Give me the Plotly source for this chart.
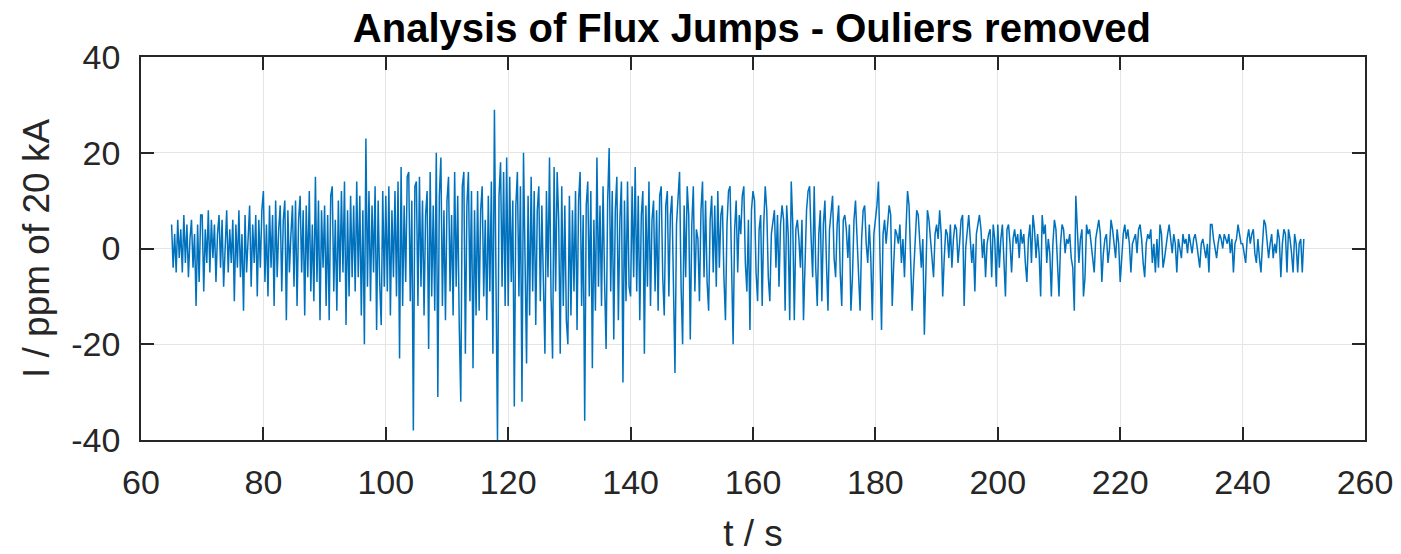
import plotly.graph_objects as go

# Sampling of the trace (seconds)
t_start = 65.0
t_step = 0.25

# Current deviation I / ppm of 20 kA (20 samples = 5 s per row)
current_ppm = [
    5, -4, 3, -5, 6, -2, 4, -5, 7, -3, 5, -6, 2, 6, -4, 3, -12, 5, -7, 7,
    7, -9, 4, -3, 8, -5, 6, -2, 5, -7, 3, 7, -4, 6, -8, 2, 8, -5, 4, -3,
    6, -11, 5, -4, 8, -6, 3, -13, 7, -5, 4, 9, -8, 5, -3, 7, -10, 6, -4, 8,
    12, -7, 5, -10, 9, -4, 7, -12, 10, -6, 4, 9, -9, 6, 10, -15, 8, -5, 3, 9,
    -8, 10, -12, 6, 11, -5, 8, -14, 9, -6, 12, -9, 5, -11, 15, -7, 10, -15, 8, -4,
    9, -12, 7, -15, 11, 13, -9, 6, -13, 10, -7, 12, -5, 14, -16, 8, -10, 11, -6, 9,
    -9, 14, -6, 11, -14, 8, -20, 23, -8, 12, -11, 9, -5, 13, -17, 10, -7, -16, 12, -8,
    11, -9, 13, -14, 8, -6, 12, -10, 14, -23, 17, -12, 9, -7, 15, 16, -11, 10, -38, 13,
    14, -12, 15, -8, 10, -14, 7, 12, -21, 16, -10, 9, -13, 20, -31, 11, 19, -12, 8, -15,
    10, 15, -9, 7, -14, 16, -8, 11, -16, -32, 13, 16, -22, 9, 16, -11, 12, -25, 8, -14,
    12, -13, 8, 13, -10, 6, -15, 11, -9, 14, -22, 29, -6, -40, 11, 18, -8, 16, -12, 19,
    -12, 15, -7, 10, -33, 9, 16, -10, 13, -32, 20, -8, -24, 11, -14, 15, -9, 12, -16, 8,
    13, -11, 9, -7, -22, 12, -6, 19, -10, -23, 17, -9, 16, 6, -22, 13, -12, 9, -15, -20,
    11, -14, 8, -9, 12, -17, 10, 16, -12, 7, -36, 9, 14, -10, 12, -25, 6, -13, 19, -8,
    9, -12, 13, -7, -21, 10, 21, -9, 12, -19, 8, 15, -15, 6, 14, -28, 10, -11, 14, -8,
    -10, 13, -6, 17, -9, 11, -15, 7, 12, -22, 9, -8, 14, -12, 6, 10, -9, 8, -13, 11,
    13, -6, -14, 9, 12, -10, 7, 11, -12, -26, 5, 10, 16, -8, -20, 9, -6, 13, 7, -19,
    5, 13, -9, 4, 2, -11, 8, 14, -6, 10, -7, -13, 6, 11, -5, 9, -8, 12, -4, 7,
    9, -6, -15, 5, 12, 13, -8, -20, 4, 10, -5, 7, 3, 11, 13, -3, -9, 6, -17, 8,
    12, 10, -5, -11, 4, 7, -12, 5, 13, 8, -6, -11, 3, 6, 8, -4, 7, -8, 5, 9,
    6, -13, 9, 3, -15, 14, 5, -15, 4, 6, 2, -4, 6, -15, -3, 8, 12, 13, 2, -6,
    13, -4, -12, 3, 8, -11, 5, 10, -3, -13, 4, 7, 11, -2, -6, 5, 9, -5, -12, 6,
    7, 4, -2, 5, -13, -6, 6, 10, 3, -4, -13, 2, 8, 9, 1, -3, 5, -2, -15, 3,
    6, 9, 14, -4, -17, 3, 6, 1, 5, 9, 7, -12, -3, 4, 3, 1, 5, -3, 2, -6,
    4, 12, 9, -2, -13, -5, 3, 8, 7, 1, -4, 2, -18, -5, 8, 6, 2, -2, -6, 3,
    5, 2, 8, 3, -10, -2, 4, 3, -2, 5, -4, 2, 5, 4, -3, 1, 6, 7, -12, 0,
    4, 7, 2, -3, 1, -9, 3, 5, 7, 4, -2, 2, -6, 1, 3, 4, -6, 5, 2, -8,
    5, -4, 2, 5, -3, -10, 4, 5, 1, -5, 2, 4, 1, 3, -2, 4, 1, 3, -3, -7,
    2, 5, -3, 7, 4, -2, 3, -1, -10, 7, 3, 5, -3, 2, -1, -10, 1, 6, 4, -2,
    -10, 1, 5, 4, -1, 2, 1, 3, -2, -4, -13, 11, 3, -3, 2, 4, -10, -6, 5, 3,
    4, 1, -2, -5, 2, 4, 6, 3, -7, -1, 2, 3, -3, 0, 6, 4, 1, -2, 4, 1,
    -7, -2, 3, 5, 2, 4, 1, -5, 1, 2, 3, -1, 4, 5, 2, -3, -6, 1, 3, 2,
    4, -3, 1, -5, 2, -4, 5, 3, -4, -2, 1, 3, 5, 2, -1, 3, 1, -5, 2, 0,
    -2, 3, 1, 2, -1, 3, 1, -1, 2, 3, 1, -2, -4, 1, 2, 0, -2, 1, -5, 5,
    5, 2, 0, -2, 1, 3, 2, 0, 3, 2, 1, 3, -1, 2, -5, 1, 2, 5, 3, 1,
    1, -1, -3, 2, 4, 1, 3, 4, -1, -3, 2, -2, -5, 1, 6, 5, 2, -2, 1, 3,
    -2, 1, -1, 4, 2, -6, 1, 4, 3, -5, 4, 2, -1, -5, 3, 1, -5, 1, 2, -5, 2,
]

time_s = [t_start + t_step * i for i in range(len(current_ppm))]

x_ticks = [60, 80, 100, 120, 140, 160, 180, 200, 220, 240, 260]
y_ticks = [-40, -20, 0, 20, 40]
y_tick_labels = ["-40", "-20", "0", "20", "40"]

title_text = "Analysis of Flux Jumps - Ouliers removed"
x_title = "t / s"
y_title = "I / ppm of 20 kA"

FONT = "Liberation Sans, Arial, Helvetica, sans-serif"
AX = "#262626"

fig = go.Figure()
fig.add_trace(go.Scatter(
    x=time_s, y=current_ppm, mode="lines",
    line=dict(color="#0072BD", width=1.5),
    showlegend=False,
))

axis_common = dict(
    showline=True, linecolor=AX, linewidth=1.5, mirror="allticks",
    ticks="inside", ticklen=13, tickwidth=1.5, tickcolor=AX,
    showgrid=True, gridcolor="#e5e5e5", gridwidth=1,
    zeroline=False, automargin=False,
    tickfont=dict(family=FONT, size=34, color=AX),
)

fig.update_layout(
    width=1393, height=546,
    margin=dict(l=133, r=36, t=49, b=114, autoexpand=False),
    paper_bgcolor="white", plot_bgcolor="white",
    title=dict(text="<b>" + title_text + "</b>", x=0.534, xanchor="center",
               y=0.963, yanchor="middle",
               font=dict(family=FONT, size=40, color="black"), automargin=False),
    xaxis=dict(range=[60, 260], tickvals=x_ticks,
               title=dict(text=x_title, font=dict(family=FONT, size=37, color=AX), standoff=23),
               ticklabelstandoff=11, **axis_common),
    yaxis=dict(range=[-40, 40], tickvals=y_ticks, ticktext=y_tick_labels,
               title=dict(text=y_title, font=dict(family=FONT, size=37, color=AX), standoff=10),
               ticklabelstandoff=12, **axis_common),
)

fig.write_html("out.html")
